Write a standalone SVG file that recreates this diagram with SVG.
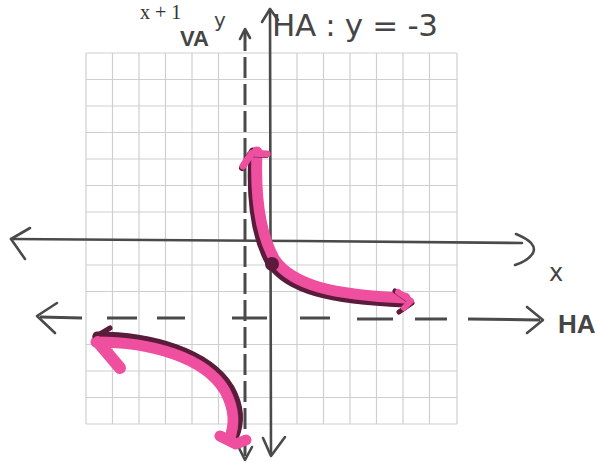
<svg xmlns="http://www.w3.org/2000/svg" width="598" height="463" viewBox="0 0 598 463">
<style>
.grid line{stroke:#cfcfcf;stroke-width:1.2}
.pen{fill:none;stroke:#4a4a4a;stroke-width:2.6;stroke-linecap:round;stroke-linejoin:round}
.dash{fill:none;stroke:#4a4a4a;stroke-width:3;stroke-linecap:butt}
.ink{fill:none;stroke:#5a1c3a;stroke-width:9;stroke-linecap:round;stroke-linejoin:round}
.pink{fill:none;stroke:#ee4f9e;stroke-width:11;stroke-linecap:round;stroke-linejoin:round}
.hand{font-family:"DejaVu Sans",sans-serif;fill:#454545}
.bold{font-family:"Liberation Sans",sans-serif;font-weight:bold;fill:#454545}
</style>
<rect width="598" height="463" fill="#ffffff"/>
<g id="grid" class="grid">
<line x1="86" y1="53" x2="86" y2="424"/><line x1="112.5" y1="53" x2="112.5" y2="424"/><line x1="139" y1="53" x2="139" y2="424"/><line x1="165.5" y1="53" x2="165.5" y2="424"/><line x1="192" y1="53" x2="192" y2="424"/><line x1="218.5" y1="53" x2="218.5" y2="424"/><line x1="297" y1="53" x2="297" y2="424"/><line x1="323.5" y1="53" x2="323.5" y2="424"/><line x1="350" y1="53" x2="350" y2="424"/><line x1="376.5" y1="53" x2="376.5" y2="424"/><line x1="403" y1="53" x2="403" y2="424"/><line x1="429.5" y1="53" x2="429.5" y2="424"/><line x1="457" y1="53" x2="457" y2="424"/>
<line x1="86" y1="53" x2="457" y2="53"/><line x1="86" y1="79.5" x2="457" y2="79.5"/><line x1="86" y1="106" x2="457" y2="106"/><line x1="86" y1="132.5" x2="457" y2="132.5"/><line x1="86" y1="159" x2="457" y2="159"/><line x1="86" y1="185.5" x2="457" y2="185.5"/><line x1="86" y1="212" x2="457" y2="212"/><line x1="86" y1="265" x2="457" y2="265"/><line x1="86" y1="291.5" x2="457" y2="291.5"/><line x1="86" y1="344.5" x2="457" y2="344.5"/><line x1="86" y1="371" x2="457" y2="371"/><line x1="86" y1="397.5" x2="457" y2="397.5"/><line x1="86" y1="424" x2="457" y2="424"/>
</g>
<g id="connectors">
<g id="x-axis">
<path class="pen" d="M11 239 L300 241 L522 243"/>
<path class="pen" d="M30 228 L11 239 L25 259"/>
<path class="pen" d="M516 234 Q538 243 533 253 Q528 261 515 265"/>
</g>
<g id="y-axis">
<path class="pen" d="M270 9 L271 455"/>
<path class="pen" d="M262 22 L270 9 L278 20"/>
<path class="pen" d="M263 438 L271 456 L285 437"/>
</g>
<g id="va-line">
<path class="dash" d="M245 30 L245 460" stroke-dasharray="21 6"/>
<path class="pen" d="M240 39 L245 29 L250 38"/>
<path class="pen" d="M239 448 L245 460 L252 447"/>
</g>
<g id="ha-line">
<path class="dash" d="M40 317 L82 318 M107 318 L137 318 M157 318 L185 318 M232 318 L267 318 M300 318 L330 318 M357 319 L393 319 M415 319 L447 319 M468 319 L540 320"/>
<path class="pen" d="M57 303 L37 316 L55 333"/>
<path class="pen" d="M527 307 L543 320 L527 333"/>
</g>
</g>
<g id="curve-right">
<path class="ink" d="M253 152 C250 200 256 238 270 263 C289 290 330 300 404 303"/>
<path class="pink" d="M257 152 C255 200 261 236 275 260 C293 285 332 295 405 298"/>
<path class="ink" d="M242 168 L250 154 L266 155" style="stroke-width:6"/>
<path class="pink" d="M243 166 L252 153 L267 154" style="stroke-width:7"/>
<path class="ink" d="M395 291 L412 303 L399 312" style="stroke-width:5"/>
<path class="pink" d="M398 292 L411 301 L404 308" style="stroke-width:6"/>
<circle cx="272" cy="264" r="7" fill="#5a1c3a"/>
</g>
<g id="curve-left">
<path class="ink" d="M97 336 C150 336 208 352 230 388 C241 408 240 425 234 438"/>
<path class="pink" d="M96 342 C150 342 205 357 225 391 C235 410 235 425 229 440"/>
<path class="ink" d="M110 328 L95 337" style="stroke-width:5"/>
<path class="pink" d="M98 342 L120 368" style="stroke-width:12"/>
<path class="pink" d="M220 436 L236 444 L246 440" style="stroke-width:11"/>
</g>
<g id="labels">
<text class="hand" x="272" y="36" font-size="31" textLength="166" lengthAdjust="spacing">HA : y = -3</text>
<text class="bold" x="180" y="46" font-size="22">VA</text>
<text class="hand" x="214" y="27" font-size="20">y</text>
<text x="140" y="19" font-family="Liberation Serif, serif" font-size="20" fill="#333">x + 1</text>
<text class="bold" x="558" y="333" font-size="26">HA</text>
<text class="hand" x="549" y="281" font-size="24">x</text>
</g>
</svg>
